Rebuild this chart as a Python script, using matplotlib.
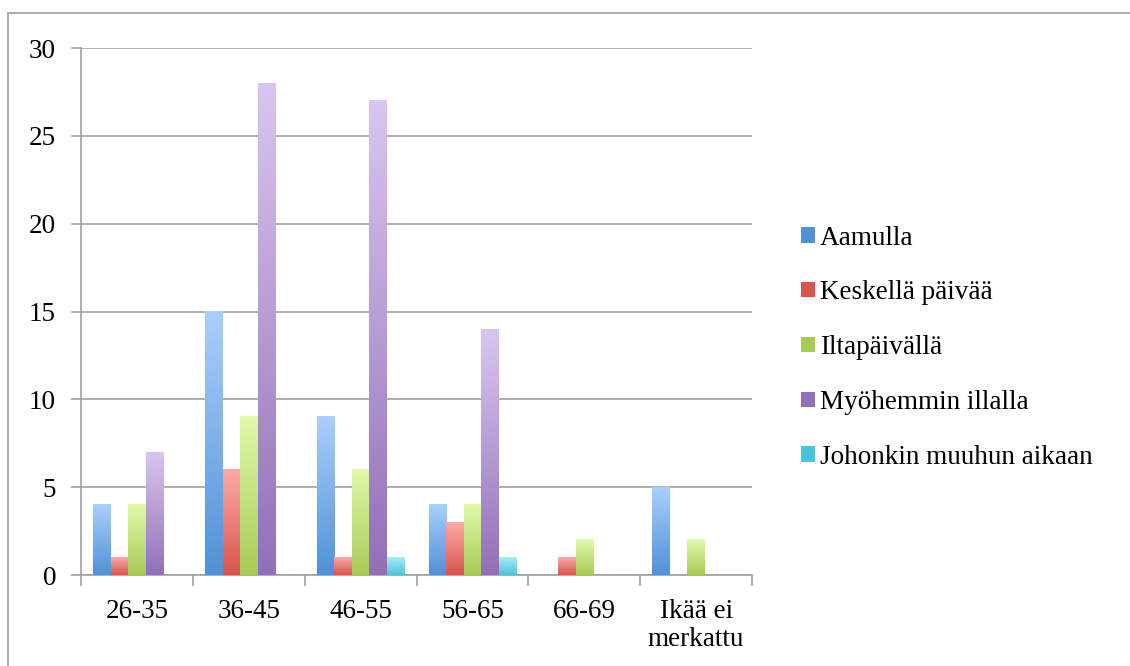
import numpy as np
import matplotlib
matplotlib.use('Agg')
import matplotlib.pyplot as plt
from matplotlib.patches import Rectangle, Patch
from matplotlib.colors import LinearSegmentedColormap

# ---------------------------------------------------------
# Data
# ---------------------------------------------------------
categories = ['26-35', '36-45', '46-55', '56-65', '66-69', 'Ikää ei\nmerkattu']
series = ['Aamulla', 'Keskellä päivää', 'Iltapäivällä',
          'Myöhemmin illalla', 'Johonkin muuhun aikaan']
aamulla = [4, 15, 9, 4, 0, 5]
keskella = [1, 6, 1, 3, 1, 0]
iltapaivalla = [4, 9, 6, 4, 2, 2]
myohemmin = [7, 28, 27, 14, 0, 0]
johonkin = [0, 0, 1, 1, 0, 0]
values = [aamulla, keskella, iltapaivalla, myohemmin, johonkin]
y_ticks = [0, 5, 10, 15, 20, 25, 30]

# gradient colours (top, bottom)
grads = [('#abcffb', '#4f92d6'),
         ('#fdaba8', '#d9544c'),
         ('#e2f9ab', '#a8cb55'),
         ('#d8c6f0', '#9270b6'),
         ('#a4effa', '#4ac4dd')]

plt.rcParams['font.family'] = ['Liberation Serif', 'DejaVu Serif']
FS = 19.5

fig = plt.figure(figsize=(11.3, 6.66), dpi=100)
ax = fig.add_axes([0.0717, 0.1366, 0.5938, 0.7913])

# outer frame
fig.patches.append(Rectangle((8 / 1130, -0.1), 1.2, 1 - 13 / 666 + 0.1,
                             transform=fig.transFigure, fill=False,
                             edgecolor='#a0a0a0', linewidth=1.2, zorder=0))

n = len(series)
bw = 1 / 6.4
grid_col = '#a0a0a0'

for s in range(n):
    cmap = LinearSegmentedColormap.from_list('g%d' % s, [grads[s][1], grads[s][0]])
    grad = np.linspace(0, 1, 256).reshape(-1, 1)
    for i, v in enumerate(values[s]):
        if v <= 0:
            continue
        x0 = i - n * bw / 2 + s * bw
        ax.imshow(grad, extent=(x0, x0 + bw, 0, v), origin='lower',
                  cmap=cmap, aspect='auto', zorder=3, interpolation='bilinear')

ax.set_xlim(-0.5, len(categories) - 0.5)
ax.set_ylim(0, 30)

# axes styling
for side in ['top', 'right']:
    ax.spines[side].set_visible(False)
for side in ['left', 'bottom']:
    ax.spines[side].set_color(grid_col)
    ax.spines[side].set_linewidth(1.2)

ax.set_yticks(y_ticks)
ax.set_yticklabels([str(t) for t in y_ticks])
ax.yaxis.grid(True, color=grid_col, linewidth=1.2, zorder=1)
ax.set_axisbelow(True)
ax.tick_params(axis='y', length=7, width=1.2, color=grid_col, pad=11, labelsize=FS)

ax.set_xticks(range(len(categories)))
ax.set_xticklabels(categories, linespacing=1.2, va='top')
ax.set_xticks(np.arange(-0.5, len(categories), 1), minor=True)
ax.tick_params(axis='x', which='major', length=0, pad=17, labelsize=FS)
ax.tick_params(axis='x', which='minor', length=8, width=1.2, color=grid_col)

# legend
handles = [Patch(facecolor=grads[s][1], edgecolor='none') for s in range(n)]
leg = fig.legend(handles, series, loc='center left',
                 bbox_to_anchor=(0.709, 0.478), frameon=False,
                 borderpad=0, borderaxespad=0,
                 fontsize=FS, handlelength=0.5, handleheight=0.5,
                 handletextpad=0.2, labelspacing=1.1)

fig.savefig('out.png', dpi=100)
